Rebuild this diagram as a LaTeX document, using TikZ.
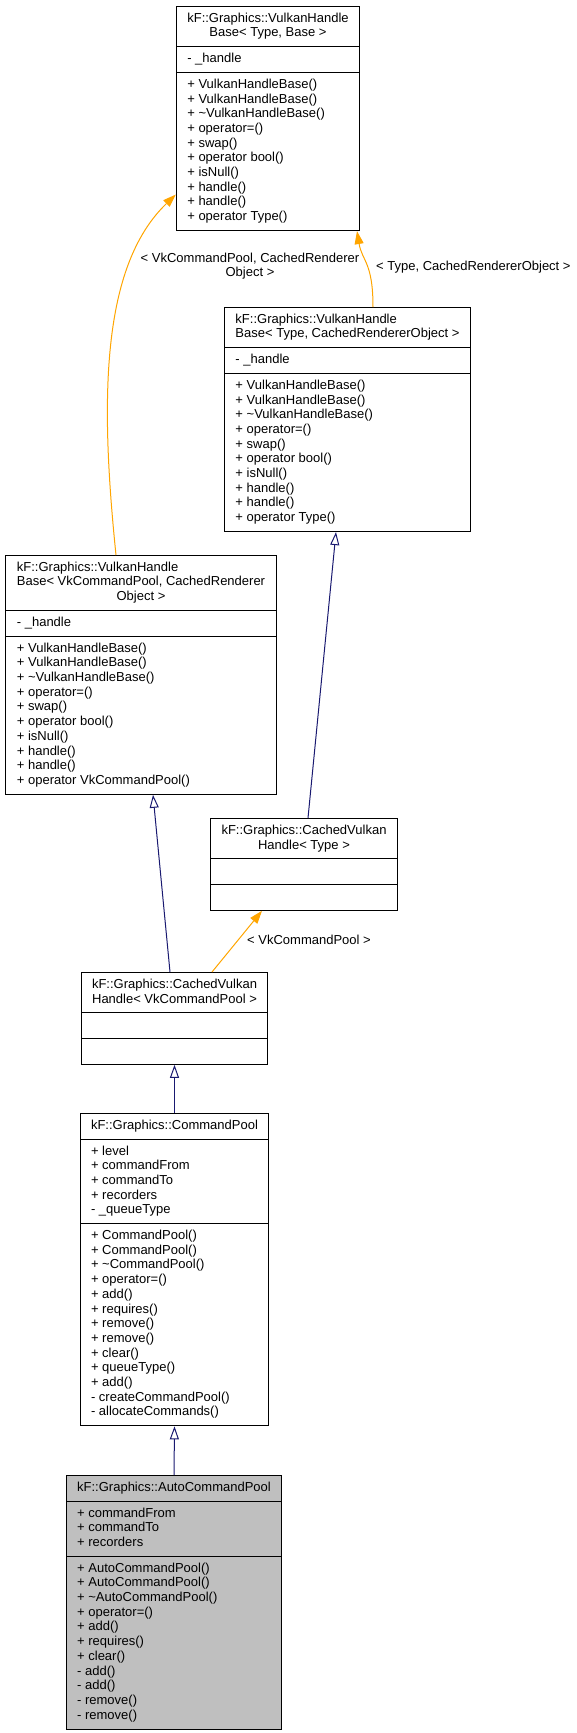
\documentclass[tikz,border=0pt]{standalone}
\usepackage{fontspec}
\setmainfont{Liberation Sans}
\usepackage{tikz}
\usetikzlibrary{shapes.multipart,arrows.meta}
\definecolor{edgeblue}{RGB}{25,25,112}
\definecolor{tmplorange}{RGB}{255,165,0}
\definecolor{classgray}{RGB}{191,191,191}
\newcommand{\rows}[1]{\begin{tabular}{@{}l@{}}#1\end{tabular}}
\newcommand{\lastc}[1]{\multicolumn{1}{@{}c@{}}{#1}}

\begin{document}
\begin{tikzpicture}[x=1pt,y=-1pt,
    classbox/.style={draw=black,line width=1pt,fill=white,rectangle split,rectangle split parts=3,
      rectangle split part align={left,left,left},inner xsep=11pt,inner ysep=5pt,anchor=north,
      font=\fontsize{13}{14.7}\selectfont},
    inherit/.style={draw=edgeblue,line width=1pt,-{Triangle[open,length=13pt,width=9pt]}},
    usage/.style={draw=tmplorange,line width=1pt,-{Triangle[length=13pt,width=9pt]}},
    lbl/.style={inner sep=0pt,font=\fontsize{13}{14.7}\selectfont}]
    \useasboundingbox (0,0) rectangle (577,1733);

    \node[classbox] (vhbBase) at (268,6) {\rows{kF::Graphics::VulkanHandle\\ \lastc{Base< Type, Base >}}
      \nodepart{two}\rows{- \_handle}
      \nodepart{three}\rows{+ VulkanHandleBase()\\ + VulkanHandleBase()\\ + \textasciitilde VulkanHandleBase()\\
        + operator=()\\ + swap()\\ + operator bool()\\ + isNull()\\ + handle()\\ + handle()\\ + operator Type()}};
    \node[classbox] (vhbType) at (347.5,307) {\rows{kF::Graphics::VulkanHandle\\ Base< Type, CachedRendererObject >}
      \nodepart{two}\rows{- \_handle}
      \nodepart{three}\rows{+ VulkanHandleBase()\\ + VulkanHandleBase()\\ + \textasciitilde VulkanHandleBase()\\
        + operator=()\\ + swap()\\ + operator bool()\\ + isNull()\\ + handle()\\ + handle()\\ + operator Type()}};
    \node[classbox] (vhbCmd) at (141,555) {\rows{kF::Graphics::VulkanHandle\\ Base< VkCommandPool, CachedRenderer\\ \lastc{Object >}}
      \nodepart{two}\rows{- \_handle}
      \nodepart{three}\rows{+ VulkanHandleBase()\\ + VulkanHandleBase()\\ + \textasciitilde VulkanHandleBase()\\
        + operator=()\\ + swap()\\ + operator bool()\\ + isNull()\\ + handle()\\ + handle()\\ + operator VkCommandPool()}};
    \node[classbox] (cvhType) at (304,818) {\rows{kF::Graphics::CachedVulkan\\ \lastc{Handle< Type >}}
      \nodepart{two}\strut
      \nodepart{three}\strut};
    \node[classbox] (cvhCmd) at (174.5,972) {\rows{kF::Graphics::CachedVulkan\\ \lastc{Handle< VkCommandPool >}}
      \nodepart{two}\strut
      \nodepart{three}\strut};
    \node[classbox] (cmdPool) at (174.5,1113) {\rows{kF::Graphics::CommandPool}
      \nodepart{two}\rows{+ level\\ + commandFrom\\ + commandTo\\ + recorders\\ - \_queueType}
      \nodepart{three}\rows{+ CommandPool()\\ + CommandPool()\\ + \textasciitilde CommandPool()\\ + operator=()\\
        + add()\\ + requires()\\ + remove()\\ + remove()\\ + clear()\\ + queueType()\\ + add()\\
        - createCommandPool()\\ - allocateCommands()}};
    \node[classbox,fill=classgray] (autoPool) at (174,1475) {\rows{kF::Graphics::AutoCommandPool}
      \nodepart{two}\rows{+ commandFrom\\ + commandTo\\ + recorders}
      \nodepart{three}\rows{+ AutoCommandPool()\\ + AutoCommandPool()\\ + \textasciitilde AutoCommandPool()\\
        + operator=()\\ + add()\\ + requires()\\ + clear()\\ - add()\\ - add()\\ - remove()\\ - remove()}};

    \draw[usage] ([xshift=-25pt]vhbCmd.north) .. controls +(-16,-155) and +(-75,72) .. ([yshift=-76pt]vhbBase.west);
    \draw[usage] ([xshift=25.5pt]vhbType.north) .. controls +(0,-45) and +(5,30) .. ([xshift=89pt]vhbBase.south);
    \draw[inherit] ([xshift=4pt]cvhType.north) -- ([xshift=-11.5pt]vhbType.south);
    \draw[inherit] ([xshift=-4.5pt]cvhCmd.north) -- ([xshift=12pt]vhbCmd.south);
    \draw[usage] ([xshift=37.5pt]cvhCmd.north) -- ([xshift=-42pt]cvhType.south);
    \draw[inherit] (cmdPool.north) -- (cvhCmd.south);
    \draw[inherit] (autoPool.north) -- (cmdPool.south);

    \node[lbl,align=center] (lblCmd) at (250,266) {< VkCommandPool, CachedRenderer\\ Object >};
    \node[lbl,anchor=west] (lblType) at (376,267) {< Type, CachedRendererObject >};
    \node[lbl,anchor=west] (lblPool) at (247,940) {< VkCommandPool >};
\end{tikzpicture}
\end{document}
